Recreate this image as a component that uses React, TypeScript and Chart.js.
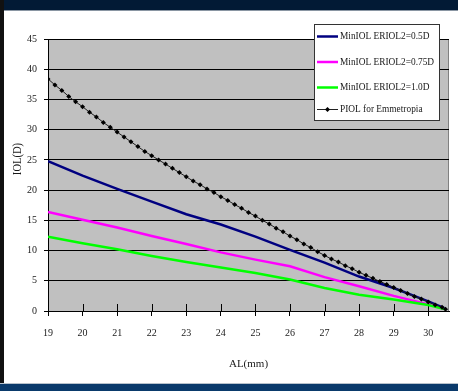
import React, { useEffect, useRef } from "react";
import { Chart, registerables } from "chart.js";

Chart.register(...registerables);

// ---- data ----
const xTickValues = [19, 20, 21, 22, 23, 24, 25, 26, 27, 28, 29, 30];
const yTickValues = [0, 5, 10, 15, 20, 25, 30, 35, 40, 45];

const alValues = [19, 20, 21, 22, 23, 24, 25, 26, 27, 28, 29, 30, 30.5];
const miniol05 = [24.8, 22.4, 20.2, 18.1, 16.0, 14.3, 12.3, 10.1, 8.0, 5.7, 3.8, 1.6, 0.4];
const miniol075 = [16.4, 15.1, 13.8, 12.4, 11.1, 9.7, 8.5, 7.4, 5.6, 4.1, 2.5, 1.1, 0.3];
const miniol10 = [12.3, 11.2, 10.2, 9.1, 8.1, 7.2, 6.3, 5.2, 3.8, 2.7, 1.9, 1.0, 0.3];

const piolAl = [
  19.0, 19.2, 19.4, 19.6, 19.8, 20.0, 20.2, 20.4, 20.6, 20.8,
  21.0, 21.2, 21.4, 21.6, 21.8, 22.0, 22.2, 22.4, 22.6, 22.8,
  23.0, 23.2, 23.4, 23.6, 23.8, 24.0, 24.2, 24.4, 24.6, 24.8,
  25.0, 25.2, 25.4, 25.6, 25.8, 26.0, 26.2, 26.4, 26.6, 26.8,
  27.0, 27.2, 27.4, 27.6, 27.8, 28.0, 28.2, 28.4, 28.6, 28.8,
  29.0, 29.2, 29.4, 29.6, 29.8, 30.0, 30.2, 30.4, 30.5,
];
const piolValues = [
  38.4, 37.4, 36.5, 35.5, 34.6, 33.8, 32.9, 32.1, 31.2, 30.4,
  29.6, 28.8, 28.0, 27.2, 26.4, 25.7, 25.0, 24.3, 23.6, 22.9,
  22.2, 21.5, 20.9, 20.2, 19.6, 18.9, 18.3, 17.6, 17.0, 16.3,
  15.7, 15.0, 14.4, 13.7, 13.1, 12.4, 11.8, 11.1, 10.5, 9.8,
  9.2, 8.6, 8.1, 7.5, 7.0, 6.4, 5.9, 5.4, 4.9, 4.4,
  3.9, 3.4, 2.9, 2.4, 2.0, 1.5, 1.0, 0.6, 0.3,
];

const seriesLabels = [
  "MinIOL ERIOL2=0.5D",
  "MinIOL ERIOL2=0.75D",
  "MinIOL ERIOL2=1.0D",
  "PIOL for Emmetropia",
];
const xTitle = "AL(mm)";
const yTitle = "IOL(D)";

const FONT = "'Liberation Serif', 'Times New Roman', serif";
const TEXT = "#1a1a1a";

const plotBg = {
  id: "plotBg",
  beforeDraw(chart: any) {
    const { ctx, chartArea: a } = chart;
    ctx.save();
    ctx.fillStyle = "#c0c0c0";
    ctx.fillRect(a.left, a.top, a.right - a.left, a.bottom - a.top);
    ctx.strokeStyle = "#808080";
    ctx.lineWidth = 1;
    ctx.beginPath();
    ctx.moveTo(Math.round(a.right) - 0.5, a.top);
    ctx.lineTo(Math.round(a.right) - 0.5, a.bottom);
    ctx.stroke();
    ctx.restore();
  },
};

const innerTicks = {
  id: "innerTicks",
  beforeDatasetsDraw(chart: any) {
    const { ctx, chartArea: a } = chart;
    const xs = chart.scales.x;
    ctx.save();
    ctx.strokeStyle = "#000";
    ctx.lineWidth = 1;
    xs.ticks.forEach((t: any) => {
      const px = Math.round(xs.getPixelForValue(t.value)) + 0.5;
      ctx.beginPath();
      ctx.moveTo(px, a.bottom - 7);
      ctx.lineTo(px, a.bottom);
      ctx.stroke();
    });
    ctx.restore();
  },
};

const overlay = {
  id: "overlay",
  afterDraw(chart: any) {
    const { ctx } = chart;
    ctx.save();
    // y axis title
    ctx.font = `12px ${FONT}`;
    ctx.fillStyle = TEXT;
    ctx.textAlign = "center";
    ctx.textBaseline = "middle";
    ctx.translate(17.5, 159);
    ctx.rotate(-Math.PI / 2);
    ctx.scale(0.88, 1);
    ctx.fillText(yTitle, 0, 0);
    ctx.restore();

    // legend
    ctx.save();
    const bx = 314.5, by = 24.5, bw = 125, bh = 96;
    ctx.fillStyle = "#fff";
    ctx.fillRect(bx, by, bw, bh);
    ctx.strokeStyle = "#333";
    ctx.lineWidth = 1;
    ctx.strokeRect(bx, by, bw, bh);
    const rows = [36.5, 62, 87.5, 109.5];
    chart.data.datasets.forEach((ds: any, i: number) => {
      const y = rows[i];
      ctx.strokeStyle = ds.borderColor;
      ctx.lineWidth = ds.borderWidth;
      ctx.beginPath();
      ctx.moveTo(317, y);
      ctx.lineTo(338, y);
      ctx.stroke();
      if (ds.pointRadius > 0) {
        ctx.fillStyle = ds.pointBackgroundColor;
        ctx.beginPath();
        ctx.moveTo(327.5, y - 2.5);
        ctx.lineTo(330, y);
        ctx.lineTo(327.5, y + 2.5);
        ctx.lineTo(325, y);
        ctx.closePath();
        ctx.fill();
      }
      ctx.save();
      ctx.font = `11px ${FONT}`;
      ctx.textAlign = "left";
      ctx.textBaseline = "middle";
      ctx.fillStyle = TEXT;
      ctx.translate(340, y);
      ctx.scale(0.85, 1);
      ctx.fillText(ds.label, 0, 0);
      ctx.restore();
    });
    ctx.restore();
  },
};

export default function App() {
  const ref = useRef<HTMLCanvasElement | null>(null);

  useEffect(() => {
    const toPts = (xs: number[], ys: number[]) => xs.map((x, i) => ({ x, y: ys[i] }));
    const chart = new Chart(ref.current as HTMLCanvasElement, {
      type: "line",
      data: {
        datasets: [
          {
            label: seriesLabels[0],
            data: toPts(alValues, miniol05),
            borderColor: "#000080",
            borderWidth: 2.5,
            pointRadius: 0,
            order: 3,
          },
          {
            label: seriesLabels[1],
            data: toPts(alValues, miniol075),
            borderColor: "#ff00ff",
            borderWidth: 2.5,
            pointRadius: 0,
            order: 2,
          },
          {
            label: seriesLabels[2],
            data: toPts(alValues, miniol10),
            borderColor: "#00ff00",
            borderWidth: 2.5,
            pointRadius: 0,
            order: 1,
          },
          {
            label: seriesLabels[3],
            data: toPts(piolAl, piolValues),
            borderColor: "#202020",
            borderWidth: 1,
            pointRadius: 2.5,
            pointStyle: "rectRot",
            pointBackgroundColor: "#000",
            pointBorderColor: "#000",
            pointBorderWidth: 0,
            order: 0,
          },
        ] as any,
      },
      options: {
        animation: false,
        responsive: false,
        events: [],
        layout: { padding: { top: 39, right: 9, left: 0, bottom: 0 } },
        elements: { line: { tension: 0 } },
        plugins: {
          legend: { display: false },
          tooltip: { enabled: false },
        },
        scales: {
          x: {
            type: "linear",
            min: 19,
            max: 30.6,
            afterBuildTicks: (s: any) => {
              s.ticks = xTickValues.map((v) => ({ value: v }));
            },
            afterFit: (s: any) => {
              s.height = 80;
            },
            grid: { drawOnChartArea: false, drawTicks: true, tickLength: 5, color: "#000", lineWidth: 1 },
            border: { display: true, color: "#000", width: 1 },
            ticks: {
              padding: 11,
              maxRotation: 0,
              autoSkip: false,
              color: TEXT,
              font: { family: FONT, size: 10 },
            },
            title: {
              display: true,
              text: xTitle,
              color: TEXT,
              font: { family: FONT, size: 11 },
              padding: { top: 0, bottom: 20 },
            },
          },
          y: {
            type: "linear",
            min: 0,
            max: 45,
            afterBuildTicks: (s: any) => {
              s.ticks = yTickValues.map((v) => ({ value: v }));
            },
            afterFit: (s: any) => {
              s.width = 48;
            },
            grid: { drawOnChartArea: true, drawTicks: true, tickLength: 4, color: "#000", lineWidth: 1 },
            border: { display: true, color: "#000", width: 1 },
            ticks: {
              padding: 7,
              color: TEXT,
              font: { family: FONT, size: 10 },
            },
          },
        },
      } as any,
      plugins: [plotBg, innerTicks, overlay],
    });
    return () => chart.destroy();
  }, []);

  return (
    <div style={{ position: "fixed", left: 0, top: 0, width: 458, height: 391, background: "#fff", overflow: "hidden" }}>
      <canvas ref={ref} width={458} height={391} style={{ position: "absolute", left: 0, top: 0 }} />
      <div style={{ position: "absolute", left: 0, top: 0, width: 458, height: 10, background: "#021a35" }} />
      <div style={{ position: "absolute", left: 0, top: 10, width: 458, height: 1, background: "#8a96a3" }} />
      <div style={{ position: "absolute", left: 0, top: 0, width: 4, height: 391, background: "#111" }} />
      <div style={{ position: "absolute", left: 0, top: 383, width: 458, height: 1, background: "#b8c2cc" }} />
      <div style={{ position: "absolute", left: 0, top: 384, width: 458, height: 7, background: "#0a3a6b" }} />
    </div>
  );
}
